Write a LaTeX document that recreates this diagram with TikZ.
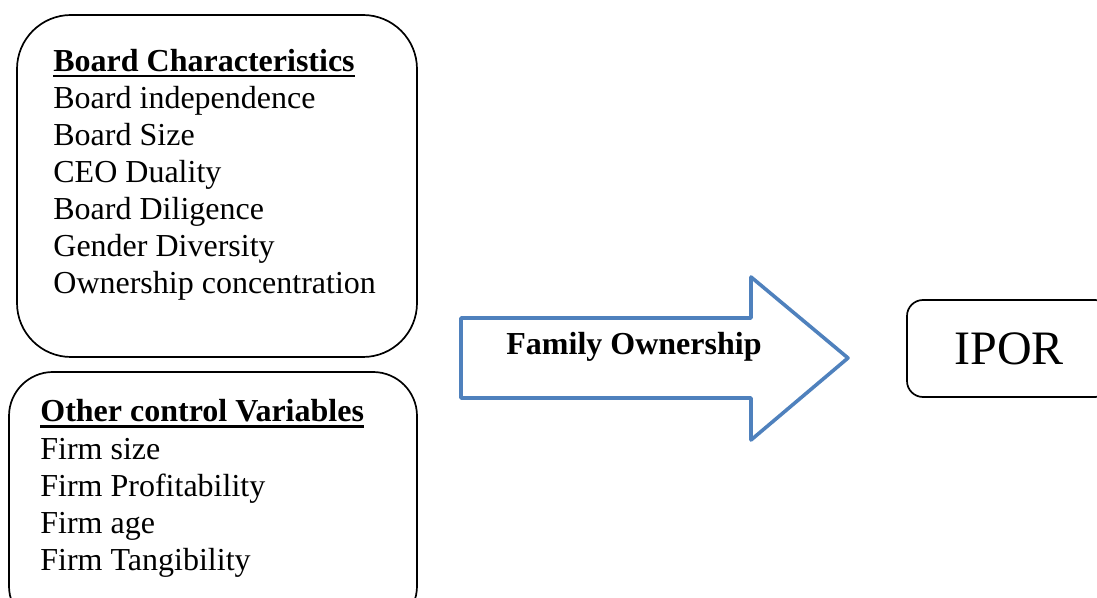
\documentclass[tikz,border=0pt]{standalone}
\usepackage{fontspec}
\setmainfont{Liberation Serif}
\definecolor{arrowblue}{HTML}{4F81BD}
\tikzset{
  varbox/.style={draw, line width=0.85pt, inner sep=0pt},
  vartext/.style={anchor=base west, inner sep=0pt, font=\fontsize{16}{19}\selectfont},
  titleline/.style={line width=1.1pt},
}
\begin{document}
\begin{tikzpicture}[x=0.5pt,y=-0.5pt]
        \useasboundingbox (0,0) rectangle (1097,598);
        \clip (0,0) rectangle (1097,598);
        % Cajas
        \node[varbox, rounded corners=27pt, minimum width=200pt, minimum height=171pt] (board) at (217,186) {};
        \node[varbox, rounded corners=22pt, minimum width=204pt, minimum height=129pt] (other) at (213,501) {};
        \node[varbox, rounded corners=8pt, minimum width=102pt, minimum height=48.5pt,
              font=\fontsize{24}{28}\selectfont] (ipor) at (1009,348.5) {IPOR};
        % Board Characteristics
        \node[vartext] (boardtitle) at (53,72) {\bfseries Board Characteristics};
        \draw[titleline] ([yshift=-2.2pt]boardtitle.base west) -- ([yshift=-2.2pt]boardtitle.base east);
        \foreach \t [count=\i] in {Board independence, Board Size, CEO Duality,
                                   Board Diligence, Gender Diversity, Ownership concentration}{
            \node[vartext] (board\i) at (53,72+37*\i) {\t};
        }
        % Other control Variables
        \node[vartext] (othertitle) at (40,422) {\bfseries Other control Variables};
        \draw[titleline] ([yshift=-2.2pt]othertitle.base west) -- ([yshift=-2.2pt]othertitle.base east);
        \foreach \t [count=\i] in {Firm size, Firm Profitability, Firm age, Firm Tangibility}{
            \node[vartext] (other\i) at (40,422+37*\i) {\t};
        }
        % Flecha
        \draw[arrowblue, line width=1.8pt, line join=round]
            (461,318) -- (751,318) -- (751,277) -- (848,358) -- (751,440) -- (751,398) -- (461,398) -- cycle;
        \node[vartext] (family) at (506,355) {\bfseries Family Ownership};
\end{tikzpicture}
\end{document}
